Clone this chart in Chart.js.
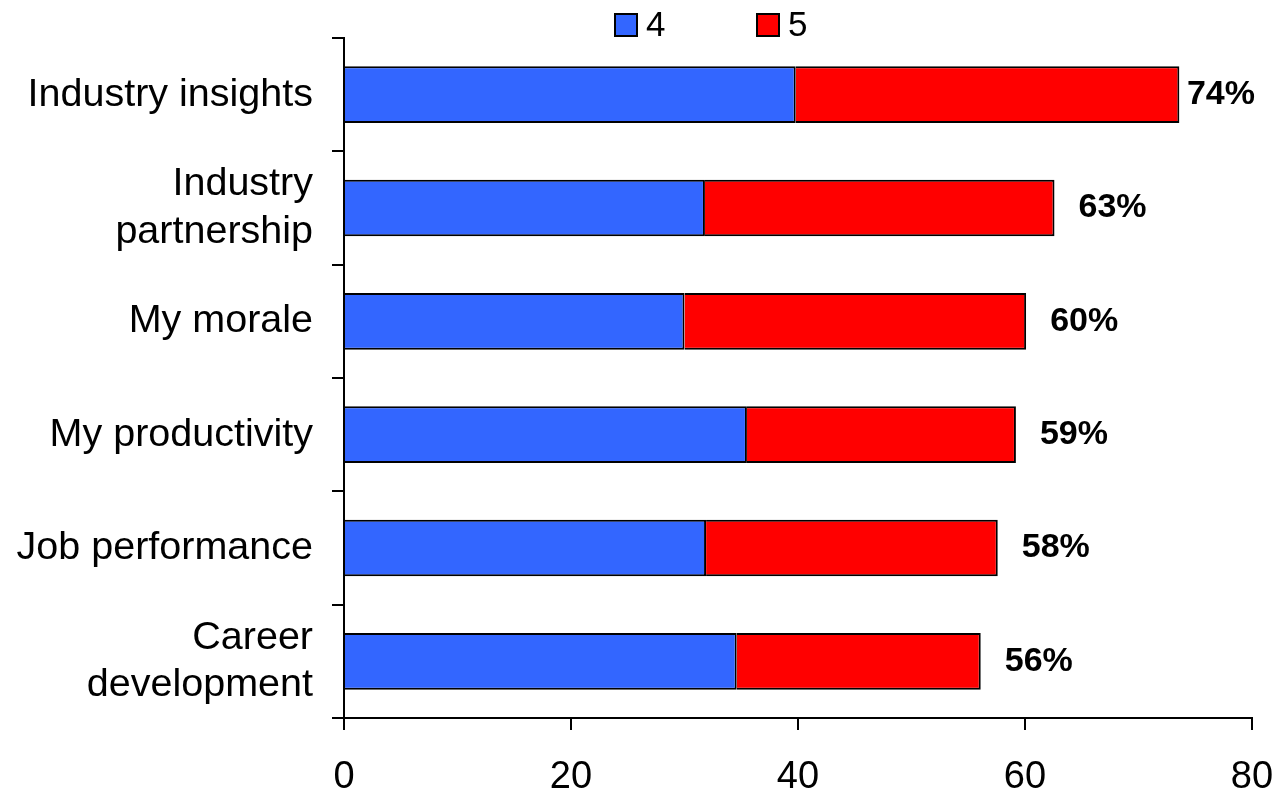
<!DOCTYPE html>
<html>
<head>
<meta charset="utf-8">
<title>Ratings 4 and 5</title>
<script src="https://cdn.jsdelivr.net/npm/chart.js@4.4.1/dist/chart.umd.min.js"></script>
<style>
  html, body { margin: 0; padding: 0; background: #fff; }
  #wrap { width: 1277px; height: 792px; }
</style>
</head>
<body>
<div id="wrap"><canvas id="myChart" width="1277" height="792"></canvas></div>
<script>
var categories = ["Industry insights", ["Industry", "partnership"], "My morale", "My productivity", "Job performance", ["Career", "development"]];
var seriesNames = ["4", "5"];
var score4 = [39.8, 31.8, 30.0, 35.5, 31.9, 34.6];
var score5 = [33.8, 30.8, 30.1, 23.7, 25.7, 21.5];
var xTicks = [0, 20, 40, 60, 80];

var FONT = '"Liberation Sans", Arial, Helvetica, sans-serif';

// legend row above the bars, box + label per series
var topLegend = {
    id: 'topLegend',
    afterDraw: function(chart){
        var ctx = chart.ctx;
        var x = 615, y = 25;
        ctx.save();
        ctx.font = '35px ' + FONT;
        ctx.textBaseline = 'middle';
        chart.data.datasets.forEach(function(ds){
            ctx.fillStyle = ds.backgroundColor;
            ctx.fillRect(x, y - 11, 22, 22);
            ctx.lineWidth = 2;
            ctx.strokeStyle = '#000';
            ctx.strokeRect(x, y - 11, 22, 22);
            ctx.fillStyle = '#000';
            ctx.fillText(ds.label, x + 31, y + 1);
            x += 142;
        });
        ctx.restore();
    }
};

// total percentage to the right of each stacked bar, kept inside the canvas
var totals = {
    id: 'totals',
    afterDatasetsDraw: function(chart){
        var ctx = chart.ctx;
        var meta = chart.getDatasetMeta(chart.data.datasets.length - 1);
        ctx.save();
        ctx.font = 'bold 34px ' + FONT;
        ctx.fillStyle = '#000';
        ctx.textBaseline = 'middle';
        meta.data.forEach(function(bar, i){
            var text = Math.round(score4[i] + score5[i]) + '%';
            var w = ctx.measureText(text).width;
            var x = Math.min(bar.x + 24, chart.width - 22 - w);
            ctx.fillText(text, x, bar.y);
        });
        ctx.restore();
    }
};

// no extra room for overhanging tick labels, the layout padding handles it
function noLabelPadding(scale){
    scale.paddingLeft = 0;
    scale.paddingRight = 0;
    scale.paddingTop = 0;
    scale.paddingBottom = 0;
}

new Chart(document.getElementById('myChart'), {
    type: 'bar',
    data: {
        labels: categories,
        datasets: [{
            label: seriesNames[0],
            data: score4,
            backgroundColor: '#3366ff',
            borderColor: '#000',
            borderWidth: 2
        }, {
            label: seriesNames[1],
            data: score5,
            backgroundColor: '#ff0000',
            borderColor: '#000',
            borderWidth: 2
        }]
    },
    options: {
        indexAxis: 'y',
        responsive: false,
        animation: false,
        devicePixelRatio: 1,
        layout: { padding: { top: 38, right: 25, left: 0, bottom: 0 } },
        datasets: { bar: { categoryPercentage: 1, barPercentage: 0.5 } },
        plugins: {
            legend: { display: false },
            tooltip: { enabled: false }
        },
        scales: {
            x: {
                stacked: true,
                min: 0,
                max: 80,
                afterBuildTicks: function(scale){
                    scale.ticks = xTicks.map(function(v){ return { value: v }; });
                },
                afterFit: function(scale){
                    scale.height = 74;
                    noLabelPadding(scale);
                },
                grid: { drawOnChartArea: false, color: '#000', lineWidth: 2, tickLength: 12 },
                border: { display: true, color: '#000', width: 2 },
                ticks: { color: '#000', padding: 25, maxRotation: 0, font: { family: FONT, size: 38 } }
            },
            y: {
                stacked: true,
                afterFit: function(scale){
                    scale.width = 344;
                    noLabelPadding(scale);
                },
                grid: { drawOnChartArea: false, color: '#000', lineWidth: 2, tickLength: 12 },
                border: { display: true, color: '#000', width: 2 },
                ticks: { color: '#000', padding: 19, font: { family: FONT, size: 39.5, lineHeight: 1.2 } }
            }
        }
    },
    plugins: [topLegend, totals]
});
</script>
</body>
</html>
